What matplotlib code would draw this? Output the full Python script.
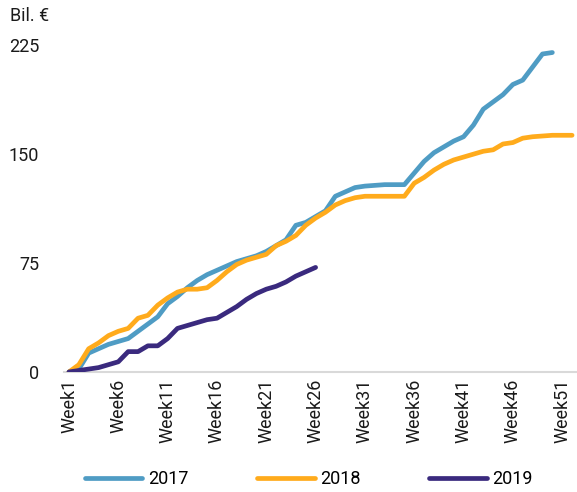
import matplotlib
matplotlib.use("Agg")
import matplotlib.pyplot as plt

# Cumulative value per week, billion euro
weeks = [f"Week{i}" for i in range(1, 53)]

values_2017 = [
    0, 2, 13, 16, 19, 21, 23, 28, 33, 38,
    47, 52, 58, 63, 67, 70, 73, 76, 78, 80,
    83, 87, 91, 101, 103, 107, 111, 121, 124, 127,
    128, 128.5, 129, 129, 129, 137, 145, 151, 155, 159,
    162, 170, 181, 186, 191, 198, 201, 210, 219, 220,
]
values_2018 = [
    0, 5, 16, 20, 25, 28, 30, 37, 39, 46,
    51, 55, 57, 57, 58, 63, 69, 74, 77, 79,
    81, 87, 90, 94, 101, 106, 110, 115, 118, 120,
    121, 121, 121, 121, 121, 130, 134, 139, 143, 146,
    148, 150, 152, 153, 157, 158, 161, 162, 162.5, 163,
    163, 163,
]
values_2019 = [
    0, 1, 2, 3, 5, 7, 14, 14, 18, 18,
    23, 30, 32, 34, 36, 37, 41, 45, 50, 54,
    57, 59, 62, 66, 69, 72,
]

series = [
    ("2017", values_2017, "#4f9cc4"),
    ("2018", values_2018, "#ffab1c"),
    ("2019", values_2019, "#3a2a7e"),
]

y_ticks = [0, 75, 150, 225]

plt.rcParams["font.family"] = ["Roboto", "DejaVu Sans"]

fig = plt.figure(figsize=(5.77, 4.92), dpi=100)
ax = fig.add_axes([0.111, 0.244, 0.889, 0.664])

for label, vals, color in series:
    ax.plot(range(len(vals)), vals, color=color, linewidth=3.4,
            solid_capstyle="round", solid_joinstyle="round", label=label)

ax.set_xlim(-0.5, 51.5)
ax.set_ylim(0, 225)
ax.set_yticks(y_ticks)
ax.set_yticklabels([str(t) for t in y_ticks], fontsize=13, color="#1a1a1a")
ax.set_xticks(range(0, 52, 5))
ax.set_xticklabels([weeks[i] for i in range(0, 52, 5)], rotation=90,
                   fontsize=13, color="#1a1a1a")
ax.tick_params(axis="both", length=0)
ax.tick_params(axis="y", pad=18)
ax.tick_params(axis="x", pad=5)

for side in ["top", "right", "left"]:
    ax.spines[side].set_visible(False)
ax.spines["bottom"].set_color("#d9d9d9")
ax.spines["bottom"].set_linewidth(1.5)
ax.spines["bottom"].set_zorder(0)

fig.text(0.017, 0.968, "Bil. €", fontsize=13, color="#1a1a1a",
         ha="left", va="center")

fig.legend(loc="lower center", bbox_to_anchor=(0.535, -0.025), ncol=3,
           frameon=False, fontsize=13, handlelength=3.2,
           columnspacing=3.8, handletextpad=0.3)

fig.savefig("out.png", dpi=100)
